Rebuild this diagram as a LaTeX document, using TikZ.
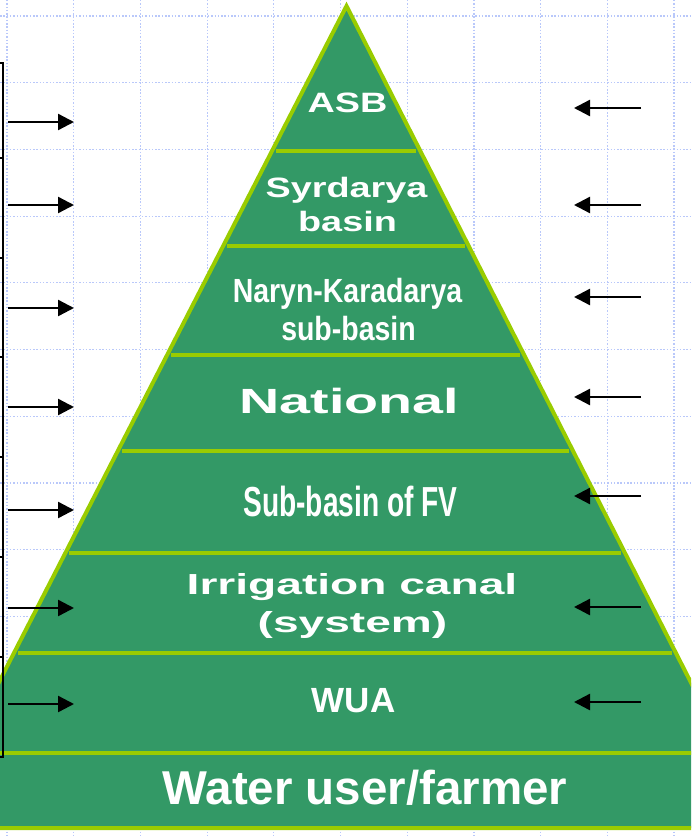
\documentclass[tikz,border=0pt]{standalone}
\usepackage{fontspec}
\usepackage{tikz}
\usetikzlibrary{arrows.meta,calc}
\setmainfont{Liberation Sans}
\newfontfamily\wideA[FakeStretch=1.35]{Liberation Sans}
\newfontfamily\wideB[FakeStretch=1.59]{Liberation Sans}
\newfontfamily\narrowA[FakeStretch=0.85]{Liberation Sans}
\newfontfamily\narrowB[FakeStretch=0.67]{Liberation Sans}
\definecolor{pyrgreen}{RGB}{51,153,102}
\definecolor{pyredge}{RGB}{153,204,0}
\definecolor{gridblue}{RGB}{185,200,250}
\def\fs#1{\fontsize{#1}{#1}\selectfont}

\begin{document}
\begin{tikzpicture}[x=1pt,y=-1pt,
  lbl/.style={text=white,inner sep=0pt,anchor=base},
  arr/.style={line width=2.4pt,-{Triangle[length=16pt,width=16pt]}},
  gridline/.style={gridblue,line width=1.2pt,dash pattern=on 1.5pt off 1.8pt}]
\useasboundingbox (0,0) rectangle (691,837);
\clip (0,0) rectangle (691,837);

% background grid
\foreach \x in {0,...,10}{
	\draw[gridline] (7+66.7*\x,0) -- (7+66.7*\x,837);
}
\foreach \y in {0,...,12}{
	\draw[gridline] (0,16+66.7*\y) -- (691,16+66.7*\y);
}

% pyramid
\coordinate (apex) at (346.5,6);
\coordinate (bl) at (-76,828);
\coordinate (br) at (765,828);
\filldraw[fill=pyrgreen,draw=pyredge,line width=4pt] (apex) -- (bl) -- (br) -- cycle;
\foreach \y in {151,246,355,451,553,653,753}{
	\draw[pyredge,line width=3.2pt,shorten <=4pt,shorten >=4pt]
		($(apex)!{(\y-6)/822}!(bl)$) -- ($(apex)!{(\y-6)/822}!(br)$);
}

% levels
\node[lbl,font=\wideA\bfseries\fs{28}] (asb) at (347.5,113) {ASB};
\node[lbl,font=\wideA\bfseries\fs{28}] (syr) at (346.5,197) {Syrdarya};
\node[lbl,font=\wideA\bfseries\fs{28}] (syrb) at (347.5,231) {basin};
\node[lbl,font=\narrowA\bfseries\fs{33.5}] (nar) at (347.5,302) {Naryn-Karadarya};
\node[lbl,font=\narrowA\bfseries\fs{33.5}] (narb) at (348.5,340) {sub-basin};
\node[lbl,font=\wideB\bfseries\fs{35}] (nat) at (349.5,413) {National};
\node[lbl,font=\narrowB\bfseries\fs{42}] (fv) at (350.5,516) {Sub-basin of FV};
\node[lbl,font=\wideB\bfseries\fs{29}] (irr) at (352,594) {Irrigation canal};
\node[lbl,font=\wideB\bfseries\fs{29}] (irrs) at (352.5,632) {(system)};
\node[lbl,font=\bfseries\fs{35}] (wua) at (353.5,712) {WUA};
\node[lbl,font=\bfseries\fs{47.5}] (farm) at (365,804) {Water user/farmer};

% side boxes
\foreach \a/\b in {63/158,158/258,258/357,357/457,457/557,557/657,657/757}{
	\draw[line width=1.4pt] (-10,\a) rectangle (3,\b);
}

% arrows
\foreach \y [count=\i] in {122,205,308,407,510,608,704}{
	\coordinate (ls\i) at (8,\y);
	\coordinate (le\i) at (74,\y);
	\draw[arr] (ls\i) -- (le\i);
}
\foreach \y [count=\i] in {108,205,297,397,496,607,702}{
	\coordinate (rs\i) at (641,\y);
	\coordinate (re\i) at (574,\y);
	\draw[arr] (rs\i) -- (re\i);
}
\end{tikzpicture}
\end{document}
